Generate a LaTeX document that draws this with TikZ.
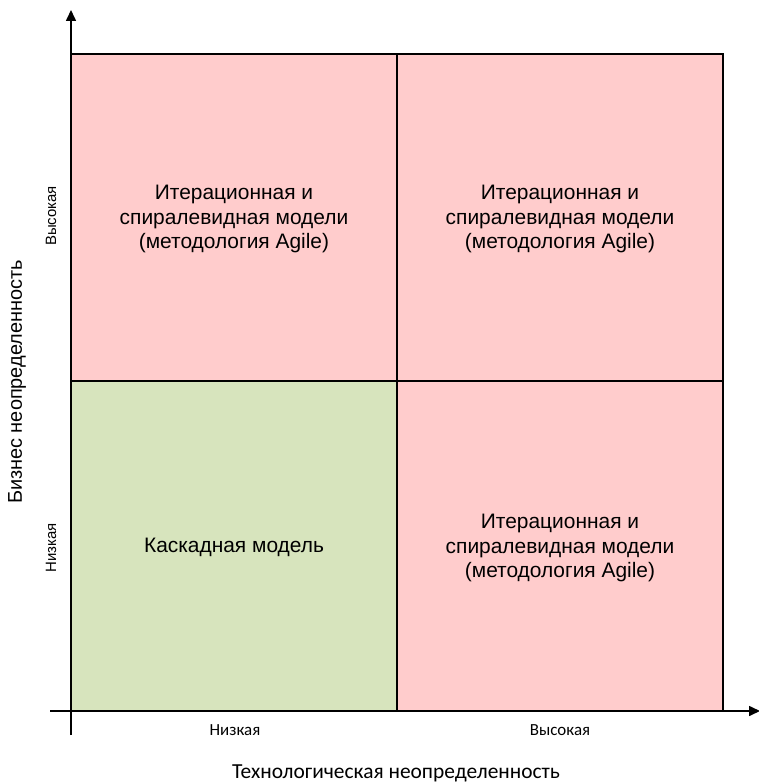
\documentclass[tikz,border=0pt]{standalone}
\usepackage{fontspec}
\setmainfont{Liberation Sans}
\newfontfamily\calfont{Carlito}
\usetikzlibrary{arrows.meta}
\begin{document}
\begin{tikzpicture}[x=1bp,y=-1bp,
  cell/.style={draw=black,line width=1.5bp},
  qtext/.style={align=center,font=\fontsize{21}{24.5}\selectfont},
  axis/.style={line width=1.6bp,-{Triangle[length=11bp,width=10bp]}},
  tick/.style={font=\fontsize{15}{17}\selectfont},
  xtick/.style={font=\calfont\fontsize{17}{19}\selectfont},
  ylab/.style={font=\fontsize{20}{23}\selectfont,rotate=90}]
\useasboundingbox (0,0) rectangle (759,784);
\fill[fill={rgb,255:red,255;green,204;blue,204}] (71,54) rectangle (397,381);
\fill[fill={rgb,255:red,255;green,204;blue,204}] (397,54) rectangle (723,381);
\fill[fill={rgb,255:red,215;green,228;blue,189}] (71,381) rectangle (397,711);
\fill[fill={rgb,255:red,255;green,204;blue,204}] (397,381) rectangle (723,711);
\draw[cell] (71,54) rectangle (723,711);
\draw[cell] (397,54) -- (397,711);
\draw[cell] (71,381) -- (723,381);
\node[qtext] (q1) at (234,219) {Итерационная и\\спиралевидная модели\\(методология Agile)};
\node[qtext] (q2) at (560,219) {Итерационная и\\спиралевидная модели\\(методология Agile)};
\node[qtext] (q3) at (234,547) {Каскадная модель};
\node[qtext] (q4) at (560,548) {Итерационная и\\спиралевидная модели\\(методология Agile)};
\coordinate (yb) at (71,735);
\coordinate (yt) at (71,10);
\coordinate (xl) at (50,711);
\coordinate (xr) at (760,711);
\draw[axis] (yb) -- (yt);
\draw[axis] (xl) -- (xr);
\node[tick,rotate=90] (yh) at (51,216) {Высокая};
\node[tick,rotate=90] (yl) at (51,548) {Низкая};
\node[ylab] (yt2) at (17,382) {Бизнес неопределенность};
\node[xtick] (xlo) at (235,730) {Низкая};
\node[xtick] (xhi) at (560,730) {Высокая};
\node[font=\calfont\fontsize{21.5}{24}\selectfont] (xt) at (396,773) {Технологическая неопределенность};
\end{tikzpicture}
\end{document}
